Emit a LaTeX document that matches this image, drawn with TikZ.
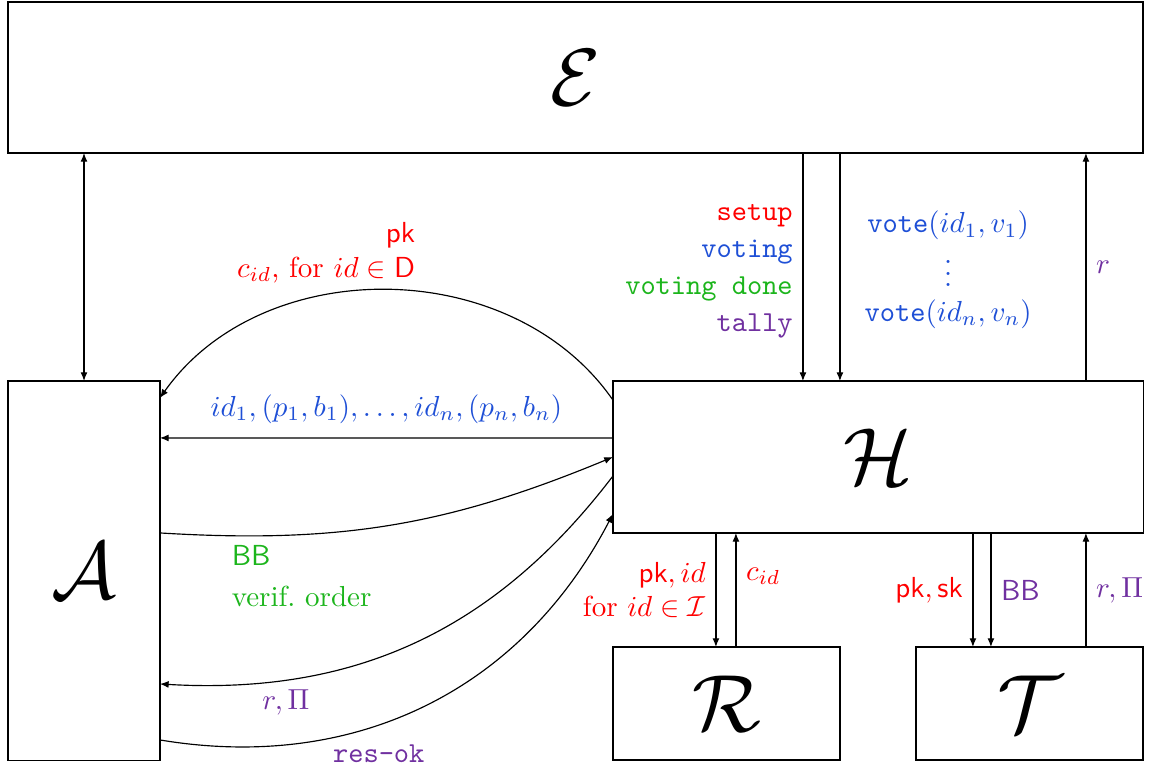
\RequirePackage{fix-cm}
\documentclass[tikz,border=0pt]{standalone}
\usepackage{xcolor}
\usetikzlibrary{arrows.meta,calc}
\definecolor{Red}{HTML}{FF0000}
\definecolor{Blue}{HTML}{1E4FD6}
\definecolor{Green}{HTML}{1CB51C}
\definecolor{Purple}{HTML}{7030A0}

\begin{document}
\begin{tikzpicture}[
    x=0.345pt, y=-0.345pt,
    box/.style={draw, inner sep=0pt, outer sep=0pt, font=\fontsize{28}{32}\selectfont},
    arrow/.style={-{Latex[length=3pt,width=2.4pt]}},
    both/.style={{Latex[length=3pt,width=2.4pt]}-{Latex[length=3pt,width=2.4pt]}}
  ]
    \useasboundingbox (0,0) rectangle (1156,767);

    \node[box, minimum width=391.6pt, minimum height=52.1pt] (E) at (575.5,77.5) {$\mathcal{E}$};
    \node[box, minimum width=52.4pt, minimum height=130.8pt] (A) at (84,570.5) {$\mathcal{A}$};
    \node[box, minimum width=182.9pt, minimum height=52.4pt] (H) at (878,457) {$\mathcal{H}$};
    \node[box, minimum width=78.3pt, minimum height=39pt] (R) at (726.5,703.5) {$\mathcal{R}$};
    \node[box, minimum width=78.3pt, minimum height=39pt] (T) at (1029.5,703.5) {$\mathcal{T}$};

    % ports on H
    \coordinate (ht1) at ($(H.north west)+(190,0)$);
    \coordinate (ht2) at ($(H.north west)+(227,0)$);
    \coordinate (ht3) at ($(H.north west)+(473,0)$);
    \coordinate (hw1) at ($(H.north west)+(0,19)$);
    \coordinate (hw2) at ($(H.north west)+(0,57)$);
    \coordinate (hw3) at ($(H.west)+(0,19)$);
    \coordinate (hw4) at ($(H.south west)+(0,-19)$);
    \coordinate (hb1) at ($(H.south west)+(103,0)$);
    \coordinate (hb2) at ($(H.south west)+(123,0)$);
    \coordinate (hb3) at ($(H.south west)+(360,0)$);
    \coordinate (hb4) at ($(H.south west)+(378,0)$);
    \coordinate (hb5) at ($(H.south west)+(473,0)$);
    % ports on A
    \coordinate (ae1) at ($(A.north east)+(0,17)$);
    \coordinate (ae2) at ($(A.north east)+(0,57)$);
    \coordinate (ae3) at ($(A.north east)+(0,152)$);
    \coordinate (ae4) at ($(A.north east)+(0,303)$);
    \coordinate (ae5) at ($(A.north east)+(0,359)$);

    % E <-> A, E <-> H
    \draw[both] (A.north) -- (A.north |- E.south);
    \draw[arrow] (E.south -| ht1) -- node[left, align=right, yshift=-1.4pt] {\color{Red}\texttt{setup}\\[0.7pt]
      \color{Blue}\texttt{voting}\\[0.7pt] \color{Green}\texttt{voting done}\\[0.7pt] \color{Purple}\texttt{tally}} (ht1);
    \draw[arrow] (E.south -| ht2) -- node[right, xshift=5pt, yshift=-1pt, align=center, text=Blue]
      {$\texttt{vote}(id_1,v_1)$\\ $\vdots$\\ $\texttt{vote}(id_n,v_n)$} (ht2);
    \draw[arrow] (ht3) -- node[right, text=Purple] {$r$} (E.south -| ht3);

    % H <-> A
    \draw[arrow] (hw1) to[bend right=55] node[above, xshift=-21pt, yshift=-1pt, align=right, text=Red]
      {$\mathsf{pk}$\\ $c_{id}$, for $id \in \mathsf{D}$} (ae1);
    \draw[arrow] (hw2) -- node[above, yshift=1.5pt, text=Blue] {$id_1,(p_1,b_1),\ldots,id_n,(p_n,b_n)$} (ae2);
    \draw[arrow] (ae3) to[bend right=13] node[pos=0.12, anchor=north west, align=left, text=Green]
      {$\mathsf{BB}$\\[2pt] verif.\ order} (H.west);
    \draw[arrow] (hw3) to[bend left=28] node[pos=0.77, below, text=Purple] {$r,\Pi$} (ae4);
    \draw[arrow] (ae5) to[bend right=36] node[pos=0.3, anchor=north west, inner sep=2pt, text=Purple]
      {\texttt{res-ok}} (hw4);

    % H <-> R
    \draw[arrow] (hb1) -- node[left, align=right, text=Red]
      {$\mathsf{pk}, id$\\ for $id \in \mathcal{I}$} (R.north -| hb1);
    \draw[arrow] (R.north -| hb2) -- node[pos=0.62, right, text=Red] {$c_{id}$} (hb2);

    % H <-> T
    \draw[arrow] (hb3) -- node[left, text=Red] {$\mathsf{pk},\mathsf{sk}$} (T.north -| hb3);
    \draw[arrow] (hb4) -- node[right, text=Purple] {$\mathsf{BB}$} (T.north -| hb4);
    \draw[arrow] (T.north -| hb5) -- node[right, text=Purple] {$r,\Pi$} (hb5);
  \end{tikzpicture}
\end{document}
